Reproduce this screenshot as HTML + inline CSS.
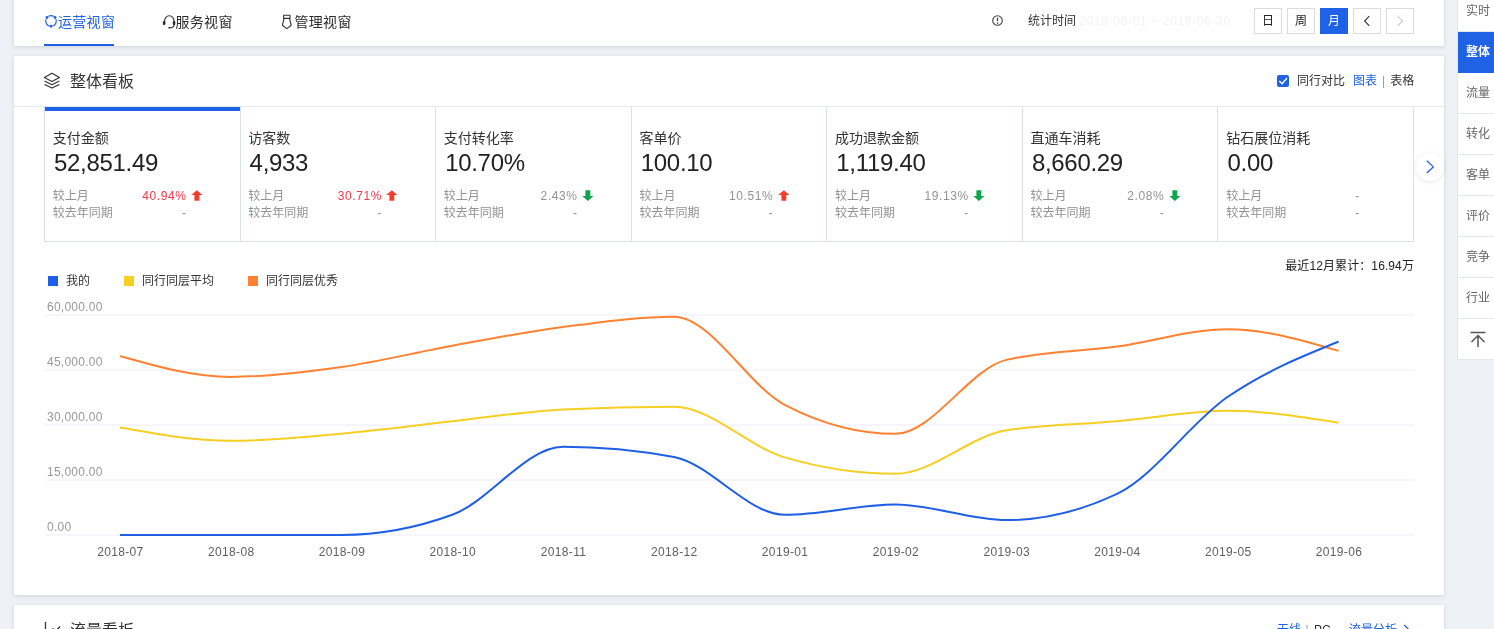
<!DOCTYPE html>
<html lang="zh-CN"><head><meta charset="utf-8"><title>整体看板</title>
<style>
*{box-sizing:border-box;margin:0;padding:0}
html,body{width:1494px;height:629px;overflow:hidden;background:#eef1f5;font-family:"Liberation Sans","Noto Sans CJK SC",sans-serif;color:#333}
.abs{position:absolute}
.panel{position:absolute;left:14px;width:1430px;background:#fff;box-shadow:0 1px 4px rgba(120,130,150,.26)}
#p1{top:-10px;height:56px}
#p2{top:56px;height:539px}
#p3{top:605px;height:60px}
.tab{position:absolute;top:10px;height:46px;line-height:44px;font-size:14px;color:#2b2b2b;white-space:nowrap;letter-spacing:.3px}
.tab svg{position:absolute;left:0;top:16px}
.tab span{position:absolute;left:13px;top:0}
.tab.on{color:#2062e6}
.tab.on:after{content:"";position:absolute;left:-1px;width:70px;bottom:0;height:2px;background:#2062e6}
.btn{position:absolute;top:18px;width:28px;height:26px;border:1px solid #dcdcdc;background:#fff;font-size:12px;line-height:24px;text-align:center;color:#222}
.btn.on{background:#2062e6;border-color:#2062e6;color:#fff}
.h2{position:absolute;left:56px;top:15px;font-size:16px;line-height:22px;color:#333}
.hline{position:absolute;left:0;right:0;top:50px;height:1px;background:#e6e9ee}
.cards{position:absolute;left:30px;top:51px;width:1370px;height:135px;border:1px solid #d9e1ec;border-top:none;display:flex}
.card{flex:1;position:relative;border-left:1px solid #d9e1ec;height:134px}
.card:first-child{border-left:none}
.card.act:before{content:"";position:absolute;left:0;right:0;top:0;height:4px;background:#2062e6}
.ct{position:absolute;left:7.7px;top:21px;font-size:14px;line-height:20px;color:#333;white-space:nowrap}
.cv{position:absolute;left:9px;top:41px;font-size:24px;line-height:30px;color:#222;white-space:nowrap;letter-spacing:-0.3px}
.row{position:absolute;left:7.7px;width:133.8px;font-size:12px;line-height:17px;color:#939393;white-space:nowrap}
.r1{top:81px} .r2{top:98px}
.pv{position:absolute;right:0;top:0;letter-spacing:.6px}
.red{color:#f3384a} .gray{color:#939393}
.ar{position:absolute;left:138.2px;top:1.5px;width:12px;height:12px}
.t12{font-size:12px;line-height:18px;white-space:nowrap}
.lg{position:absolute;top:220px;width:10px;height:10px}
.lt{position:absolute;top:216px;font-size:12px;line-height:18px;color:#333;white-space:nowrap}
.chart{position:absolute;left:0;top:0}
.yl{font-size:12px;letter-spacing:.25px;fill:#999;font-family:"Liberation Sans",sans-serif}
.xl{font-size:12px;letter-spacing:.35px;fill:#606060;font-family:"Liberation Sans",sans-serif}
#side{position:absolute;left:1457px;top:0;width:60px;height:360px;background:#fff;border-left:1px solid #e3e6eb}
.si{position:absolute;left:0;width:60px;height:41px;line-height:41px;font-size:12px;color:#666;padding-left:8px;border-bottom:1px solid #e3e6eb;background:#fff}
.si.on{background:#2062e6;color:#fff;font-weight:bold;border-color:#2062e6}
.si.top svg{position:absolute;left:10px;top:10px}
.nx{position:absolute;left:1416px;top:152.7px;width:28px;height:28px;border-radius:50%;background:#fff;box-shadow:0 1px 4px rgba(100,110,140,.16)}
</style></head><body>
<div class="panel" id="p1">
 <div class="tab on" style="left:31px"><svg width="14" height="14" viewBox="0 0 14 14" style="left:-0.8px;top:14.3px"><path d="M4.43 2.36A5.3 5.3 0 0 1 9.57 2.36M11.95 5.10A5.3 5.3 0 0 1 8.81 11.98M5.19 11.98A5.3 5.3 0 0 1 2.05 5.10" fill="none" stroke="#2062e6" stroke-width="1.2"/><circle cx="3.00" cy="3.52" r="1.45" fill="#2062e6"/><circle cx="11.00" cy="3.52" r="1.45" fill="#2062e6"/><circle cx="7.00" cy="12.30" r="1.45" fill="#2062e6"/></svg><span>运营视窗</span></div>
 <div class="tab" style="left:148px"><svg width="14" height="16" viewBox="0 0 14 16" style="left:0;top:14px"><path d="M2.5 7.4A4.8 5.7 0 0 1 12.1 7.4M12.1 10.8Q12.1 13.7 8.4 13.8" fill="none" stroke="#333" stroke-width="1.1"/><rect x="0.9" y="7" width="2.5" height="4" rx=".9" fill="#2a2a2a"/><rect x="10.8" y="7" width="2.5" height="4" rx=".9" fill="#2a2a2a"/><rect x="6.2" y="13" width="2.6" height="1.6" rx=".8" fill="#2a2a2a"/></svg><span style="left:13.5px">服务视窗</span></div>
 <div class="tab" style="left:267px"><svg width="12" height="16" viewBox="0 0 12 16" style="left:0;top:14px"><path d="M2.6 1.2H9V4.4H2.6ZM3.1 4.4L1.4 11.2L5.8 14.6L10.2 11.2L8.5 4.4" fill="none" stroke="#333" stroke-width="1.1" stroke-linejoin="round"/></svg><span style="left:13.5px">管理视窗</span></div>
 <svg class="abs" style="left:977.4px;top:24px" width="13" height="13" viewBox="0 0 13 13"><circle cx="6.5" cy="6.5" r="4.8" fill="none" stroke="#444" stroke-width="1.1"/><path d="M6.5 3.6V7.2" stroke="#444" stroke-width="1.3"/><circle cx="6.5" cy="9.1" r=".8" fill="#444"/></svg>
 <div class="abs" style="left:1014px;top:22px;font-size:12px;line-height:18px;color:#333;white-space:nowrap">统计时间 <span style="color:#f3f3f3;letter-spacing:.65px">2019-06-01 ~ 2019-06-30</span></div>
 <div class="btn" style="left:1240px">日</div>
 <div class="btn" style="left:1273px">周</div>
 <div class="btn on" style="left:1306px">月</div>
 <div class="btn" style="left:1339px"><svg width="10" height="12" viewBox="0 0 10 12" style="position:absolute;left:8px;top:6px"><path d="M7.3 1.2L2.6 6L7.3 10.8" fill="none" stroke="#333" stroke-width="1.1"/></svg></div>
 <div class="btn" style="left:1372px"><svg width="10" height="12" viewBox="0 0 10 12" style="position:absolute;left:8px;top:6px"><path d="M2.7 1.2L7.4 6L2.7 10.8" fill="none" stroke="#ccc" stroke-width="1.1"/></svg></div>
</div>
<div class="panel" id="p2">
 <svg class="abs" style="left:30px;top:16px" width="17" height="18" viewBox="0 0 17 18"><path d="M7.9 1.3L15.5 5.4L7.9 9.4L0.4 5.4Z M0.5 9.1L7.9 12.7L15.4 9.1 M0.5 12.4L7.9 16.1L15.4 12.4" fill="none" stroke="#333" stroke-width="1.15" stroke-linejoin="round"/></svg>
 <div class="h2">整体看板</div>
 <div class="abs" style="left:1263px;top:19px;width:12px;height:12px;background:#2062e6;border-radius:2px"><svg width="12" height="12" viewBox="0 0 12 12" style="position:absolute;left:0;top:0"><path d="M2.3 5.9L5.1 8.8L10 3" fill="none" stroke="#fff" stroke-width="1.4"/></svg></div>
 <div class="abs" style="left:1283px;top:16px;font-size:12px;line-height:18px;white-space:nowrap;color:#333">同行对比<span style="color:#2062e6;margin-left:8px">图表</span><span style="color:#999;margin:0 5px">|</span>表格</div>
 <div class="hline"></div>
 <div class="cards">
<div class="card act"><div class="ct">支付金额</div><div class="cv">52,851.49</div>
<div class="row r1"><span class="lb">较上月</span><span class="pv red">40.94%</span><svg class="ar" viewBox="0 0 12 12"><path d="M5.85 0.2L11.4 5.1H8.3V10.8H3.4V5.1H0.3Z" fill="#f23c2e"/></svg></div>
<div class="row r2"><span class="lb">较去年同期</span><span class="pv gray">-</span></div></div>
<div class="card"><div class="ct">访客数</div><div class="cv">4,933</div>
<div class="row r1"><span class="lb">较上月</span><span class="pv red">30.71%</span><svg class="ar" viewBox="0 0 12 12"><path d="M5.85 0.2L11.4 5.1H8.3V10.8H3.4V5.1H0.3Z" fill="#f23c2e"/></svg></div>
<div class="row r2"><span class="lb">较去年同期</span><span class="pv gray">-</span></div></div>
<div class="card"><div class="ct">支付转化率</div><div class="cv">10.70%</div>
<div class="row r1"><span class="lb">较上月</span><span class="pv gray">2.43%</span><svg class="ar" viewBox="0 0 12 12"><path d="M5.85 10.9L11.4 6.1H8.3V0.2H3.4V6.1H0.3Z" fill="#0da64c"/></svg></div>
<div class="row r2"><span class="lb">较去年同期</span><span class="pv gray">-</span></div></div>
<div class="card"><div class="ct">客单价</div><div class="cv">100.10</div>
<div class="row r1"><span class="lb">较上月</span><span class="pv gray">10.51%</span><svg class="ar" viewBox="0 0 12 12"><path d="M5.85 0.2L11.4 5.1H8.3V10.8H3.4V5.1H0.3Z" fill="#f23c2e"/></svg></div>
<div class="row r2"><span class="lb">较去年同期</span><span class="pv gray">-</span></div></div>
<div class="card"><div class="ct">成功退款金额</div><div class="cv">1,119.40</div>
<div class="row r1"><span class="lb">较上月</span><span class="pv gray">19.13%</span><svg class="ar" viewBox="0 0 12 12"><path d="M5.85 10.9L11.4 6.1H8.3V0.2H3.4V6.1H0.3Z" fill="#0da64c"/></svg></div>
<div class="row r2"><span class="lb">较去年同期</span><span class="pv gray">-</span></div></div>
<div class="card"><div class="ct">直通车消耗</div><div class="cv">8,660.29</div>
<div class="row r1"><span class="lb">较上月</span><span class="pv gray">2.08%</span><svg class="ar" viewBox="0 0 12 12"><path d="M5.85 10.9L11.4 6.1H8.3V0.2H3.4V6.1H0.3Z" fill="#0da64c"/></svg></div>
<div class="row r2"><span class="lb">较去年同期</span><span class="pv gray">-</span></div></div>
<div class="card"><div class="ct">钻石展位消耗</div><div class="cv">0.00</div>
<div class="row r1"><span class="lb">较上月</span><span class="pv gray">-</span></div>
<div class="row r2"><span class="lb">较去年同期</span><span class="pv gray">-</span></div></div>
 </div>
 <div class="abs" style="right:30px;top:201px;font-size:12px;line-height:18px;color:#222;letter-spacing:.1px;white-space:nowrap">最近12月累计：16.94万</div>
 <div class="lg" style="left:34px;background:#1f5fe6"></div><div class="lt" style="left:52px">我的</div>
 <div class="lg" style="left:110px;background:#f5cf23"></div><div class="lt" style="left:128px">同行同层平均</div>
 <div class="lg" style="left:234px;background:#ff8132"></div><div class="lt" style="left:252px">同行同层优秀</div>
</div>
<div class="panel" id="p3">
 <svg class="abs" style="left:30px;top:16px" width="18" height="17" viewBox="0 0 18 17"><path d="M1.5 1V15.5H17M5 12L9 8L11.5 10.5L16 5.5" fill="none" stroke="#333" stroke-width="1.3"/></svg>
 <div class="h2">流量看板</div>
 <div class="abs t12" style="left:1263px;top:16px;color:#2062e6">无线</div>
 <div class="abs t12" style="left:1291.5px;top:16px;color:#999">|</div>
 <div class="abs t12" style="left:1300px;top:16px;color:#333">PC</div>
 <div class="abs t12" style="left:1335px;top:16px;color:#2062e6">流量分析</div>
 <svg class="abs" style="left:1388px;top:19px" width="10" height="12" viewBox="0 0 10 12"><path d="M2.2 1L7.2 6L2.2 11" fill="none" stroke="#2062e6" stroke-width="1.2"/></svg>
</div>
<svg class="chart" width="1494" height="629" viewBox="0 0 1494 629"><line x1="45" x2="1414" y1="315" y2="315" stroke="#f5f5fb" stroke-width="2"/><text x="47" y="311" class="yl">60,000.00</text><line x1="45" x2="1414" y1="370" y2="370" stroke="#f5f5fb" stroke-width="2"/><text x="47" y="366" class="yl">45,000.00</text><line x1="45" x2="1414" y1="425" y2="425" stroke="#f5f5fb" stroke-width="2"/><text x="47" y="421" class="yl">30,000.00</text><line x1="45" x2="1414" y1="480" y2="480" stroke="#f5f5fb" stroke-width="2"/><text x="47" y="476" class="yl">15,000.00</text><line x1="45" x2="1414" y1="535" y2="535" stroke="#f5f5fb" stroke-width="2"/><text x="47" y="531" class="yl">0.00</text><text x="120.4" y="556" class="xl" text-anchor="middle">2018-07</text><text x="231.2" y="556" class="xl" text-anchor="middle">2018-08</text><text x="342.0" y="556" class="xl" text-anchor="middle">2018-09</text><text x="452.7" y="556" class="xl" text-anchor="middle">2018-10</text><text x="563.5" y="556" class="xl" text-anchor="middle">2018-11</text><text x="674.3" y="556" class="xl" text-anchor="middle">2018-12</text><text x="785.1" y="556" class="xl" text-anchor="middle">2019-01</text><text x="895.9" y="556" class="xl" text-anchor="middle">2019-02</text><text x="1006.7" y="556" class="xl" text-anchor="middle">2019-03</text><text x="1117.4" y="556" class="xl" text-anchor="middle">2019-04</text><text x="1228.2" y="556" class="xl" text-anchor="middle">2019-05</text><text x="1339.0" y="556" class="xl" text-anchor="middle">2019-06</text><path d="M120.0 356.0C156.9 366.4 193.9 376.9 230.8 376.9C267.7 376.9 304.6 372.2 341.6 367.0C378.5 361.8 415.4 352.4 452.3 345.7C489.3 339.0 526.2 331.8 563.1 327.0C600.1 322.2 637.0 316.7 673.9 316.7C710.8 316.7 747.8 385.5 784.7 404.8C821.6 424.1 858.5 433.8 895.5 433.8C932.4 433.8 969.3 368.8 1006.3 359.9C1043.2 351.0 1080.1 351.6 1117.0 346.5C1154.0 341.4 1190.9 329.2 1227.8 329.2C1264.7 329.2 1301.7 340.0 1338.6 350.9" fill="none" stroke="#ff8132" stroke-width="2" stroke-linecap="butt" stroke-linejoin="round"/><path d="M120.0 427.6C156.9 434.2 193.9 440.8 230.8 440.8C267.7 440.8 304.6 436.9 341.6 433.7C378.5 430.4 415.4 425.4 452.3 421.3C489.3 417.2 526.2 411.2 563.1 409.4C600.1 407.6 637.0 406.7 673.9 406.7C710.8 406.7 747.8 446.5 784.7 457.4C821.6 468.3 858.5 473.8 895.5 473.8C932.4 473.8 969.3 436.3 1006.3 430.3C1043.2 424.3 1080.1 424.6 1117.0 421.3C1154.0 418.1 1190.9 410.8 1227.8 410.8C1264.7 410.8 1301.7 416.8 1338.6 422.7" fill="none" stroke="#f5cf23" stroke-width="2" stroke-linecap="butt" stroke-linejoin="round"/><path d="M120.0 535.0C156.9 535.0 193.9 535.0 230.8 535.0C267.7 535.0 304.6 535.0 341.6 535.0C378.5 535.0 415.4 528.3 452.3 514.8C489.3 501.3 526.2 446.7 563.1 446.7C600.1 446.7 637.0 450.1 673.9 457.0C710.8 463.9 747.8 514.8 784.7 514.8C821.6 514.8 858.5 504.5 895.5 504.5C932.4 504.5 969.3 520.1 1006.3 520.1C1043.2 520.1 1080.1 511.4 1117.0 493.9C1154.0 476.4 1190.9 422.2 1227.8 396.8C1264.7 371.4 1301.7 356.5 1338.6 341.6" fill="none" stroke="#1f5fe6" stroke-width="2" stroke-linecap="butt" stroke-linejoin="round"/></svg>
<div class="nx"><svg width="28" height="28" viewBox="0 0 28 28"><path d="M10.8 7.8L17.3 13.9L10.8 20" fill="none" stroke="#2a5cf0" stroke-width="1.3"/></svg></div>
<div id="side"><div class="si" style="top:-9px">实时</div><div class="si on" style="top:32px">整体</div><div class="si" style="top:73px">流量</div><div class="si" style="top:114px">转化</div><div class="si" style="top:155px">客单</div><div class="si" style="top:196px">评价</div><div class="si" style="top:237px">竞争</div><div class="si" style="top:278px">行业</div><div class="si top" style="top:319px"><svg width="20" height="20" viewBox="0 0 20 20"><path d="M2.5 3.5H17.5M10 18V7M3.5 13L10 6.5L16.5 13" fill="none" stroke="#555" stroke-width="1.5"/></svg></div></div>
</body></html>
